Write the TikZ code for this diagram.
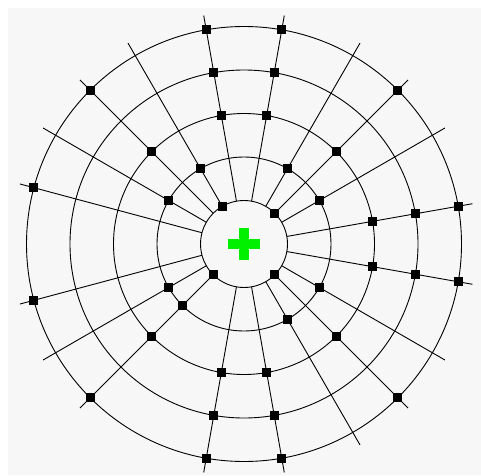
\documentclass[tikz,border=0pt]{standalone}
\usepackage{xcolor}
\usepackage{tikz}

\definecolor{paper}{RGB}{247,247,247}
\definecolor{crossgreen}{RGB}{0,240,0}

\tikzset{
  ring/.style={draw=black, line width=0.9pt},
  spoke/.style={draw=black, line width=0.9pt},
  knot/.style={draw=none, fill=black, rectangle, minimum size=9pt, inner sep=0pt}
}

\begin{document}
\begin{tikzpicture}[x=1pt, y=1pt]
				\useasboundingbox (0,0) rectangle (481,475);
				\fill[paper] (8,0) rectangle (481,467);
				\coordinate (centre) at (244,231);

				% rings
				\foreach \r in {43.5,87,130.5,174,217.5}
					\draw[ring] (centre) circle (\r);

				% spokes from the inner ring outwards
				\foreach \a in {10,30,45,60,80,100,120,135,150,165,195,210,225,260,280,300,315,330,350} {
					\coordinate (in-\a) at ([shift={(\a:43.5)}]centre);
					\coordinate (out-\a) at ([shift={(\a:232)}]centre);
					\draw[spoke] (in-\a) -- (out-\a);
				}

				% knots on the rings
				\foreach \a in {45,120,225,315}
					\node[knot] (k1-\a) at ([shift={(\a:43.5)}]centre) {};
				\foreach \a in {30,60,120,150,210,225,300,330}
					\node[knot] (k2-\a) at ([shift={(\a:87)}]centre) {};
				\foreach \a in {10,45,80,100,135,225,260,280,315,350}
					\node[knot] (k3-\a) at ([shift={(\a:130.5)}]centre) {};
				\foreach \a in {10,80,100,260,280,350}
					\node[knot] (k4-\a) at ([shift={(\a:174)}]centre) {};
				\foreach \a in {10,45,80,100,135,165,195,225,260,280,315,350}
					\node[knot] (k5-\a) at ([shift={(\a:217.5)}]centre) {};

				% green cross in the middle
				\node (crossh) at (centre) [fill=crossgreen, minimum width=32pt, minimum height=10.5pt, inner sep=0pt] {};
				\node (crossv) at (centre) [fill=crossgreen, minimum width=10.5pt, minimum height=32pt, inner sep=0pt] {};
			\end{tikzpicture}
\end{document}
